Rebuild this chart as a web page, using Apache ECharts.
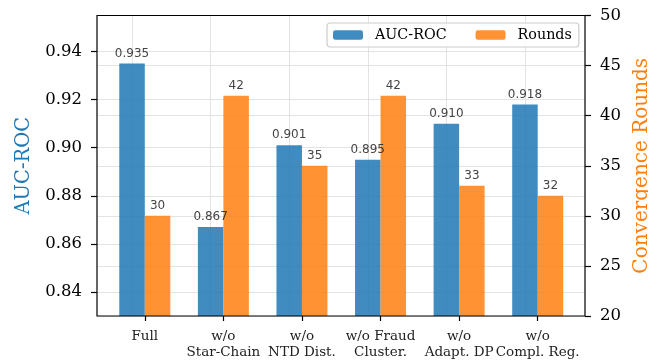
<!DOCTYPE html>
<html>
<head>
<meta charset="utf-8">
<script src="https://cdn.jsdelivr.net/npm/echarts@6/dist/echarts.min.js"></script>
<style>html,body{margin:0;padding:0;background:#fff}#c{width:648px;height:364px}</style>
</head>
<body>
<div id="c"></div>
<script>
const categories = ['Full', 'w/o\nStar-Chain', 'w/o\nNTD Dist.', 'w/o Fraud\nCluster.', 'w/o\nAdapt. DP', 'w/o\nCompl. Reg.'];
const aucValues = [0.935, 0.867, 0.901, 0.895, 0.910, 0.918];
const roundValues = [30, 42, 35, 42, 33, 32];
const aucTicks = [0.84, 0.86, 0.88, 0.90, 0.92, 0.94];
const roundTicks = [20, 25, 30, 35, 40, 45, 50];

const SERIF = 'DejaVu Serif';
const SANS = 'DejaVu Sans';
const BLUE = '#1f77b4';
const ORANGE = '#ff7f0e';
const GRIDC = '#e3e3e3';

const chart = echarts.init(document.getElementById('c'), null, {renderer: 'canvas'});
chart.setOption({
  animation: false,
  backgroundColor: '#fff',
  grid: [
    {left: 105.5, right: 71, top: 15.5, bottom: 48, outerBoundsMode: 'none', containLabel: false},
    {left: 97, right: 63, top: 15.5, bottom: 48, outerBoundsMode: 'none', containLabel: false, show: true, borderColor: '#000', borderWidth: 1.2, backgroundColor: 'transparent', z: 3}
  ],
  legend: {
    left: 327, top: 23,
    padding: [5, 7, 5, 6],
    itemGap: 29,
    itemWidth: 30, itemHeight: 9.5,
    borderColor: '#cccccc', borderWidth: 1.2, borderRadius: 3,
    backgroundColor: 'rgba(255,255,255,0.8)',
    textStyle: {fontFamily: SERIF, fontSize: 14.3, color: '#000', padding: [0, 0, 0, 7]},
    data: ['AUC-ROC', 'Rounds']
  },
  xAxis: [
    {
      type: 'category', gridIndex: 0, data: categories,
      axisLine: {show: false},
      axisTick: {show: true, alignWithLabel: true, length: 5, lineStyle: {color: '#000', width: 1.2}},
      axisLabel: {fontFamily: SERIF, fontSize: 13.5, color: '#222', lineHeight: 16, margin: 12, interval: 0},
      splitLine: {show: false}
    },
    {type: 'value', gridIndex: 1, min: 0, max: 1, show: false}
  ],
  yAxis: [
    {type: 'value', gridIndex: 0, min: 0.83, max: 0.955, show: false},
    {type: 'value', gridIndex: 0, min: 20, max: 50, show: false},
    {
      type: 'value', gridIndex: 1, position: 'left', min: 0.83, max: 0.955,
      name: 'AUC-ROC', nameLocation: 'middle', nameRotate: 90, nameGap: 63,
      nameTextStyle: {fontFamily: SERIF, fontSize: 19.5, color: BLUE},
      axisLine: {show: false},
      axisTick: {show: true, length: 6, customValues: aucTicks, lineStyle: {color: '#000', width: 1.2}},
      axisLabel: {customValues: aucTicks, fontFamily: SERIF, fontSize: 16.5, color: '#000', margin: 15, formatter: v => v.toFixed(2)},
      splitLine: {show: true, lineStyle: {color: GRIDC, width: 1}}
    },
    {
      type: 'value', gridIndex: 1, position: 'right', min: 20, max: 50, interval: 5,
      name: 'Convergence Rounds', nameLocation: 'middle', nameRotate: 90, nameGap: 45,
      nameTextStyle: {fontFamily: SERIF, fontSize: 20, color: ORANGE},
      axisLine: {show: false},
      axisTick: {show: true, length: 6, lineStyle: {color: '#000', width: 1.2}},
      axisLabel: {fontFamily: SERIF, fontSize: 16.5, color: '#000', margin: 15},
      splitLine: {show: true, lineStyle: {color: GRIDC, width: 1}}
    }
  ],
  series: [
    {
      name: 'AUC-ROC', type: 'bar', xAxisIndex: 0, yAxisIndex: 0,
      data: aucValues, barWidth: 25.5, barGap: '0%',
      itemStyle: {color: BLUE, opacity: 0.85},
      label: {show: true, position: 'top', distance: 4, fontFamily: SANS, fontSize: 12, color: '#222', formatter: p => p.value.toFixed(3)},
      markLine: {
        silent: true, symbol: 'none', z: 1,
        label: {show: false},
        lineStyle: {color: GRIDC, width: 1, type: 'solid'},
        data: categories.map(c => ({xAxis: c}))
      }
    },
    {
      name: 'Rounds', type: 'bar', xAxisIndex: 0, yAxisIndex: 1,
      data: roundValues, barWidth: 25.5, barGap: '0%',
      itemStyle: {color: ORANGE, opacity: 0.85},
      label: {show: true, position: 'top', distance: 4, fontFamily: SANS, fontSize: 12, color: '#222'}
    }
  ]
});
</script>
</body>
</html>
